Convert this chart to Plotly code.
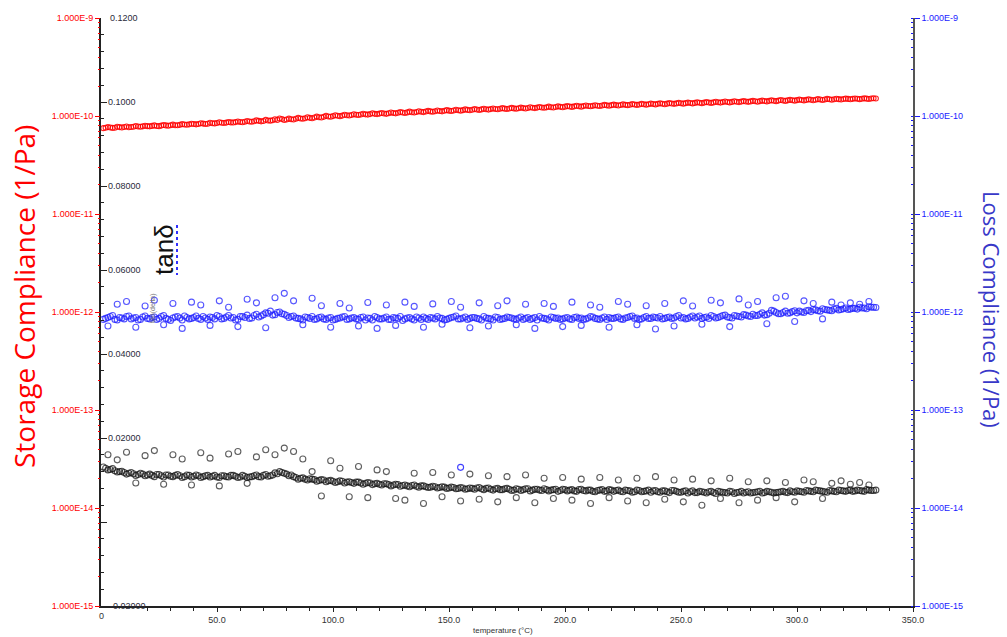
import plotly.graph_objects as go

# ---------------- data ----------------
temperature = [2, 4, 6, 8, 10, 12, 14, 16, 18, 20,
               22, 24, 26, 28, 30, 32, 34, 36, 38, 40,
               42, 44, 46, 48, 50, 52, 54, 56, 58, 60,
               62, 64, 66, 68, 70, 72, 74, 76, 78, 80,
               82, 84, 86, 88, 90, 92, 94, 96, 98, 100,
               102, 104, 106, 108, 110, 112, 114, 116, 118, 120,
               122, 124, 126, 128, 130, 132, 134, 136, 138, 140,
               142, 144, 146, 148, 150, 152, 154, 156, 158, 160,
               162, 164, 166, 168, 170, 172, 174, 176, 178, 180,
               182, 184, 186, 188, 190, 192, 194, 196, 198, 200,
               202, 204, 206, 208, 210, 212, 214, 216, 218, 220,
               222, 224, 226, 228, 230, 232, 234, 236, 238, 240,
               242, 244, 246, 248, 250, 252, 254, 256, 258, 260,
               262, 264, 266, 268, 270, 272, 274, 276, 278, 280,
               282, 284, 286, 288, 290, 292, 294, 296, 298, 300,
               302, 304, 306, 308, 310, 312, 314, 316, 318, 320,
               322, 324, 326, 328, 330, 332, 334]

temperature_odd = [1, 3, 5, 7, 9, 11, 13, 15, 17, 19,
                   21, 23, 25, 27, 29, 31, 33, 35, 37, 39,
                   41, 43, 45, 47, 49, 51, 53, 55, 57, 59,
                   61, 63, 65, 67, 69, 71, 73, 75, 77, 79,
                   81, 83, 85, 87, 89, 91, 93, 95, 97, 99,
                   101, 103, 105, 107, 109, 111, 113, 115, 117, 119,
                   121, 123, 125, 127, 129, 131, 133, 135, 137, 139,
                   141, 143, 145, 147, 149, 151, 153, 155, 157, 159,
                   161, 163, 165, 167, 169, 171, 173, 175, 177, 179,
                   181, 183, 185, 187, 189, 191, 193, 195, 197, 199,
                   201, 203, 205, 207, 209, 211, 213, 215, 217, 219,
                   221, 223, 225, 227, 229, 231, 233, 235, 237, 239,
                   241, 243, 245, 247, 249, 251, 253, 255, 257, 259,
                   261, 263, 265, 267, 269, 271, 273, 275, 277, 279,
                   281, 283, 285, 287, 289, 291, 293, 295, 297, 299,
                   301, 303, 305, 307, 309, 311, 313, 315, 317, 319,
                   321, 323, 325, 327, 329, 331, 333]

# storage compliance, units of 1e-11 1/Pa
storage_e11 = [7.60, 7.64, 7.58, 7.70, 7.72, 7.68, 7.78, 7.80, 7.84, 7.88,
               7.92, 7.90, 7.98, 8.02, 8.06, 8.04, 8.12, 8.18, 8.22, 8.28,
               8.30, 8.36, 8.34, 8.42, 8.48, 8.52, 8.56, 8.60, 8.66, 8.70,
               8.74, 8.80, 8.84, 8.92, 8.88, 9.00, 9.06, 9.12, 9.30, 9.20,
               9.28, 9.36, 9.42, 9.50, 9.58, 9.64, 9.72, 9.80, 9.90, 9.98,
               10.05, 10.10, 10.18, 10.24, 10.30, 10.36, 10.40, 10.46, 10.52, 10.58,
               10.62, 10.68, 10.72, 10.78, 10.84, 10.88, 10.94, 10.98, 11.04, 11.10,
               11.14, 11.20, 11.24, 11.30, 11.34, 11.38, 11.44, 11.48, 11.54, 11.60,
               11.64, 11.68, 11.72, 11.76, 11.80, 11.84, 11.88, 11.92, 11.96, 12.00,
               12.04, 12.08, 12.12, 12.18, 12.22, 12.26, 12.30, 12.36, 12.40, 12.46,
               12.50, 12.54, 12.58, 12.62, 12.66, 12.70, 12.74, 12.78, 12.84, 12.90,
               12.92, 12.96, 13.00, 13.04, 13.08, 13.12, 13.16, 13.20, 13.24, 13.30,
               13.32, 13.36, 13.40, 13.44, 13.48, 13.52, 13.56, 13.60, 13.64, 13.70,
               13.72, 13.76, 13.80, 13.86, 13.90, 13.92, 13.98, 14.02, 14.06, 14.10,
               14.14, 14.18, 14.22, 14.28, 14.30, 14.36, 14.40, 14.44, 14.48, 14.52,
               14.56, 14.60, 14.64, 14.66, 14.72, 14.76, 14.80, 14.84, 14.86, 14.90,
               14.94, 14.96, 15.00, 15.02, 15.04, 15.08, 15.10]

storage_odd_e11 = [7.52, 7.70, 7.56, 7.78, 7.62, 7.80, 7.72, 7.90, 7.78, 7.94,
                   7.84, 8.02, 7.88, 8.10, 7.96, 8.16, 8.06, 8.26, 8.14, 8.34,
                   8.22, 8.44, 8.28, 8.52, 8.40, 8.62, 8.48, 8.70, 8.58, 8.80,
                   8.64, 8.90, 8.74, 9.02, 8.82, 9.14, 8.96, 9.26, 9.44, 9.10,
                   9.40, 9.22, 9.56, 9.38, 9.72, 9.50, 9.86, 9.64, 10.04, 9.82,
                   10.16, 9.96, 10.30, 10.12, 10.42, 10.22, 10.54, 10.34, 10.66, 10.46,
                   10.74, 10.52, 10.86, 10.64, 10.96, 10.74, 11.08, 10.84, 11.20, 10.96,
                   11.28, 11.06, 11.38, 11.16, 11.48, 11.24, 11.58, 11.34, 11.68, 11.44,
                   11.76, 11.52, 11.86, 11.62, 11.94, 11.70, 12.02, 11.78, 12.10, 11.86,
                   12.18, 11.94, 12.28, 12.04, 12.36, 12.12, 12.46, 12.20, 12.54, 12.30,
                   12.62, 12.38, 12.72, 12.46, 12.80, 12.56, 12.88, 12.64, 12.98, 12.74,
                   13.06, 12.80, 13.14, 12.90, 13.22, 12.98, 13.30, 13.06, 13.38, 13.14,
                   13.46, 13.20, 13.54, 13.30, 13.62, 13.36, 13.70, 13.44, 13.78, 13.52,
                   13.86, 13.60, 13.96, 13.70, 14.04, 13.76, 14.12, 13.86, 14.20, 13.94,
                   14.28, 14.00, 14.36, 14.10, 14.44, 14.18, 14.54, 14.26, 14.62, 14.34,
                   14.70, 14.42, 14.78, 14.50, 14.86, 14.58, 14.94, 14.66, 15.00, 14.74,
                   15.04, 14.80, 15.10, 14.86, 15.14, 14.92, 15.16]

# loss compliance, units of 1e-12 1/Pa (main band)
loss_e12 = [0.86, 0.90, 0.84, 0.88, 0.85, 0.91, 0.87, 0.83, 0.89, 0.86,
            0.88, 0.84, 0.90, 0.86, 0.82, 0.89, 0.87, 0.91, 0.85, 0.88,
            0.86, 0.90, 0.84, 0.88, 0.92, 0.85, 0.89, 0.87, 0.83, 0.90,
            0.88, 0.86, 0.92, 0.89, 0.94, 0.97, 0.93, 0.99, 0.96, 0.92,
            0.90, 0.87, 0.85, 0.89, 0.86, 0.84, 0.88, 0.85, 0.87, 0.83,
            0.86, 0.89, 0.84, 0.87, 0.85, 0.88, 0.83, 0.86, 0.90, 0.85,
            0.87, 0.84, 0.88, 0.86, 0.82, 0.87, 0.85, 0.89, 0.84, 0.86,
            0.88, 0.85, 0.87, 0.83, 0.86, 0.89, 0.85, 0.87, 0.84, 0.88,
            0.86, 0.83, 0.87, 0.85, 0.89, 0.84, 0.86, 0.88, 0.85, 0.87,
            0.84, 0.88, 0.86, 0.83, 0.87, 0.85, 0.89, 0.86, 0.84, 0.87,
            0.85, 0.88, 0.86, 0.84, 0.87, 0.89, 0.85, 0.87, 0.84, 0.86,
            0.88, 0.85, 0.87, 0.90, 0.86, 0.84, 0.88, 0.86, 0.89, 0.87,
            0.85, 0.88, 0.86, 0.90, 0.87, 0.85, 0.89, 0.87, 0.91, 0.88,
            0.86, 0.90, 0.88, 0.92, 0.89, 0.87, 0.91, 0.89, 0.93, 0.90,
            0.92, 0.95, 0.93, 0.97, 1.02, 0.96, 0.99, 0.97, 1.01, 0.98,
            1.00, 1.03, 1.01, 1.05, 1.02, 1.06, 1.04, 1.07, 1.05, 1.08,
            1.06, 1.09, 1.07, 1.10, 1.08, 1.12, 1.11]

loss_odd_e12 = [0.84, 0.88, 0.92, 0.83, 0.87, 0.90, 0.85, 0.88, 0.84, 0.91,
                0.85, 0.89, 0.86, 0.92, 0.84, 0.87, 0.90, 0.83, 0.88, 0.86,
                0.91, 0.84, 0.87, 0.89, 0.85, 0.90, 0.86, 0.92, 0.88, 0.84,
                0.90, 0.93, 0.87, 0.95, 0.91, 0.98, 1.02, 0.94, 1.00, 0.95,
                0.88, 0.91, 0.86, 0.83, 0.88, 0.90, 0.85, 0.89, 0.84, 0.88,
                0.84, 0.87, 0.90, 0.85, 0.88, 0.84, 0.89, 0.87, 0.83, 0.88,
                0.85, 0.89, 0.84, 0.87, 0.90, 0.85, 0.88, 0.83, 0.87, 0.89,
                0.84, 0.87, 0.90, 0.86, 0.84, 0.88, 0.91, 0.85, 0.89, 0.86,
                0.88, 0.85, 0.90, 0.86, 0.83, 0.88, 0.85, 0.89, 0.87, 0.84,
                0.89, 0.86, 0.84, 0.88, 0.90, 0.86, 0.83, 0.88, 0.87, 0.85,
                0.88, 0.84, 0.89, 0.87, 0.85, 0.90, 0.86, 0.84, 0.89, 0.88,
                0.86, 0.89, 0.84, 0.88, 0.91, 0.87, 0.85, 0.90, 0.86, 0.88,
                0.90, 0.86, 0.89, 0.87, 0.92, 0.88, 0.86, 0.91, 0.89, 0.86,
                0.89, 0.92, 0.87, 0.90, 0.93, 0.88, 0.92, 0.90, 0.94, 0.91,
                0.95, 0.92, 0.98, 0.94, 1.04, 0.99, 0.96, 1.02, 0.98, 1.03,
                1.02, 0.99, 1.04, 1.06, 1.03, 1.08, 1.05, 1.03, 1.09, 1.06,
                1.10, 1.07, 1.09, 1.12, 1.10, 1.13, 1.12]

# tan delta (main band)
tan_delta = [0.0128, 0.0125, 0.0122, 0.0120, 0.0118, 0.0116, 0.0115, 0.0113, 0.0114, 0.0112,
             0.0111, 0.0113, 0.0110, 0.0112, 0.0109, 0.0111, 0.0110, 0.0108, 0.0111, 0.0109,
             0.0110, 0.0108, 0.0111, 0.0109, 0.0107, 0.0110, 0.0108, 0.0111, 0.0109, 0.0107,
             0.0109, 0.0107, 0.0110, 0.0108, 0.0111, 0.0109, 0.0112, 0.0115, 0.0118, 0.0114,
             0.0112, 0.0106, 0.0104, 0.0102, 0.0103, 0.0101, 0.0099, 0.0100, 0.0098, 0.0097,
             0.0096, 0.0097, 0.0095, 0.0094, 0.0095, 0.0093, 0.0092, 0.0093, 0.0091, 0.0090,
             0.0091, 0.0089, 0.0088, 0.0089, 0.0087, 0.0086, 0.0087, 0.0085, 0.0086, 0.0084,
             0.0083, 0.0084, 0.0082, 0.0083, 0.0081, 0.0082, 0.0080, 0.0081, 0.0079, 0.0080,
             0.0081, 0.0079, 0.0080, 0.0078, 0.0079, 0.0077, 0.0079, 0.0078, 0.0076, 0.0078,
             0.0077, 0.0079, 0.0076, 0.0078, 0.0075, 0.0077, 0.0076, 0.0078, 0.0075, 0.0077,
             0.0076, 0.0074, 0.0077, 0.0075, 0.0076, 0.0073, 0.0075, 0.0077, 0.0074, 0.0076,
             0.0075, 0.0073, 0.0076, 0.0074, 0.0072, 0.0075, 0.0073, 0.0076, 0.0074, 0.0072,
             0.0074, 0.0072, 0.0075, 0.0073, 0.0071, 0.0074, 0.0072, 0.0070, 0.0073, 0.0071,
             0.0072, 0.0070, 0.0073, 0.0071, 0.0069, 0.0072, 0.0070, 0.0073, 0.0071, 0.0069,
             0.0071, 0.0073, 0.0070, 0.0072, 0.0069, 0.0071, 0.0073, 0.0070, 0.0072, 0.0074,
             0.0072, 0.0075, 0.0073, 0.0076, 0.0074, 0.0072, 0.0075, 0.0073, 0.0076, 0.0074,
             0.0075, 0.0073, 0.0076, 0.0074, 0.0077, 0.0075, 0.0076]

tan_delta_odd = [0.0131, 0.0124, 0.0127, 0.0119, 0.0121, 0.0114, 0.0118, 0.0111, 0.0116, 0.0110,
                 0.0114, 0.0108, 0.0113, 0.0107, 0.0112, 0.0108, 0.0113, 0.0106, 0.0112, 0.0107,
                 0.0112, 0.0106, 0.0110, 0.0107, 0.0111, 0.0106, 0.0110, 0.0107, 0.0111, 0.0106,
                 0.0111, 0.0106, 0.0108, 0.0112, 0.0107, 0.0113, 0.0110, 0.0117, 0.0120, 0.0116,
                 0.0110, 0.0108, 0.0102, 0.0105, 0.0100, 0.0102, 0.0097, 0.0101, 0.0096, 0.0099,
                 0.0094, 0.0098, 0.0093, 0.0096, 0.0092, 0.0095, 0.0090, 0.0094, 0.0089, 0.0092,
                 0.0088, 0.0091, 0.0086, 0.0090, 0.0085, 0.0088, 0.0084, 0.0088, 0.0083, 0.0086,
                 0.0082, 0.0085, 0.0081, 0.0084, 0.0080, 0.0083, 0.0079, 0.0082, 0.0078, 0.0081,
                 0.0078, 0.0082, 0.0077, 0.0081, 0.0076, 0.0080, 0.0077, 0.0080, 0.0075, 0.0079,
                 0.0075, 0.0079, 0.0074, 0.0078, 0.0076, 0.0079, 0.0074, 0.0077, 0.0073, 0.0078,
                 0.0074, 0.0077, 0.0073, 0.0078, 0.0074, 0.0076, 0.0072, 0.0076, 0.0073, 0.0077,
                 0.0073, 0.0076, 0.0072, 0.0075, 0.0071, 0.0076, 0.0072, 0.0074, 0.0071, 0.0075,
                 0.0071, 0.0074, 0.0070, 0.0075, 0.0071, 0.0073, 0.0069, 0.0074, 0.0070, 0.0072,
                 0.0069, 0.0073, 0.0068, 0.0072, 0.0070, 0.0073, 0.0068, 0.0071, 0.0069, 0.0072,
                 0.0070, 0.0072, 0.0069, 0.0073, 0.0071, 0.0070, 0.0072, 0.0071, 0.0074, 0.0071,
                 0.0073, 0.0071, 0.0074, 0.0072, 0.0075, 0.0073, 0.0071, 0.0074, 0.0072, 0.0075,
                 0.0073, 0.0076, 0.0074, 0.0075, 0.0073, 0.0076, 0.0075]

# scattered readings around the main bands
temperature_b = [3, 7, 11, 15, 19, 23, 27, 31, 35, 39,
                 43, 47, 51, 55, 59, 63, 67, 71, 75, 79,
                 83, 87, 91, 95, 99, 103, 107, 111, 115, 119,
                 123, 127, 131, 135, 139, 143, 147, 151, 155, 159,
                 163, 167, 171, 175, 179, 183, 187, 191, 195, 199,
                 203, 207, 211, 215, 219, 223, 227, 231, 235, 239,
                 243, 247, 251, 255, 259, 263, 267, 271, 275, 279,
                 283, 287, 291, 295, 299, 303, 307, 311, 315, 319,
                 323, 327, 331]

loss_b_e12 = [0.72, 1.20, 1.28, 0.70, 1.15, 1.32, 0.74, 1.22, 0.68, 1.26,
              1.18, 0.73, 1.30, 1.12, 0.71, 1.35, 1.24, 0.69, 1.40, 1.55,
              1.30, 0.74, 1.38, 1.16, 0.70, 1.22, 1.10, 0.72, 1.25, 0.68,
              1.18, 0.73, 1.26, 1.14, 0.70, 1.21, 0.75, 1.28, 1.12, 0.69,
              1.24, 0.72, 1.16, 1.30, 0.74, 1.20, 0.68, 1.22, 1.14, 0.71,
              1.26, 0.73, 1.18, 1.12, 0.70, 1.28, 1.20, 0.74, 1.16, 0.67,
              1.22, 0.72, 1.30, 1.15, 0.75, 1.32, 1.24, 0.71, 1.36, 1.18,
              1.28, 0.76, 1.40, 1.45, 0.80, 1.30, 1.22, 0.85, 1.26, 1.18,
              1.24, 1.20, 1.28]

tan_delta_b = [0.0160, 0.0148, 0.0166, 0.0093, 0.0158, 0.0170, 0.0090, 0.0160, 0.0150, 0.0088,
               0.0165, 0.0152, 0.0086, 0.0162, 0.0168, 0.0092, 0.0155, 0.0172, 0.0160, 0.0176,
               0.0168, 0.0150, 0.0120, 0.0062, 0.0146, 0.0128, 0.0060, 0.0132, 0.0058, 0.0124,
               0.0120, 0.0056, 0.0052, 0.0116, 0.0044, 0.0118, 0.0060, 0.0112, 0.0050, 0.0114,
               0.0054, 0.0110, 0.0048, 0.0108, 0.0058, 0.0112, 0.0046, 0.0104, 0.0056, 0.0106,
               0.0052, 0.0102, 0.0044, 0.0106, 0.0058, 0.0100, 0.0050, 0.0104, 0.0046, 0.0108,
               0.0054, 0.0100, 0.0048, 0.0102, 0.0040, 0.0098, 0.0056, 0.0104, 0.0046, 0.0096,
               0.0052, 0.0098, 0.0058, 0.0094, 0.0048, 0.0100, 0.0096, 0.0056, 0.0092, 0.0098,
               0.0090, 0.0094, 0.0088]

# a single stray loss-compliance reading
loss_outlier_T = [155]
loss_outlier = [2.6e-14]

x_tick_vals = [0, 50, 100, 150, 200, 250, 300, 350]
x_tick_text = ["", "50.0", "100.0", "150.0", "200.0", "250.0", "300.0", "350.0"]
log_tick_vals = [1e-15, 1e-14, 1e-13, 1e-12, 1e-11, 1e-10, 1e-9]
log_tick_text = ["1.000E-15", "1.000E-14", "1.000E-13", "1.000E-12",
                 "1.000E-11", "1.000E-10", "1.000E-9"]
tan_tick_vals = [-0.02, 0.0, 0.02, 0.04, 0.06, 0.08, 0.10, 0.12]
tan_tick_text = ["", "", "0.02000", "0.04000", "0.06000", "0.08000", "0.1000", ""]
tan_edge_vals = [-0.02, 0.12]
tan_edge_text = ["-0.02000", "0.1200"]

storage = [v * 1e-11 for v in storage_e11]
storage_odd = [v * 1e-11 for v in storage_odd_e11]
loss = [v * 1e-12 for v in loss_e12]
loss_odd = [v * 1e-12 for v in loss_odd_e12]
loss_b = [v * 1e-12 for v in loss_b_e12]

# ---------------- figure ----------------
RED = "#ff0000"
BLUE = "#1a1aff"
TICKFONT = dict(family="Liberation Sans, Arial, sans-serif", size=9)


def mk(color, size=6):
    return dict(symbol="circle-open", size=size, color=color, line=dict(width=1.1))


fig = go.Figure()
fig.add_trace(go.Scatter(x=temperature_b, y=tan_delta_b, yaxis="y2", mode="markers",
                         marker=mk("rgba(40,40,40,0.75)")))
fig.add_trace(go.Scatter(x=temperature, y=tan_delta, yaxis="y2", mode="markers",
                         marker=mk("rgba(20,20,20,0.75)")))
fig.add_trace(go.Scatter(x=temperature_odd, y=tan_delta_odd, yaxis="y2", mode="markers",
                         marker=mk("rgba(20,20,20,0.75)")))
fig.add_trace(go.Scatter(x=temperature_b, y=loss_b, yaxis="y3", mode="markers",
                         marker=mk("rgba(30,30,255,0.75)")))
fig.add_trace(go.Scatter(x=temperature, y=loss, yaxis="y3", mode="markers",
                         marker=mk("rgba(30,30,255,0.75)")))
fig.add_trace(go.Scatter(x=temperature_odd, y=loss_odd, yaxis="y3", mode="markers",
                         marker=mk("rgba(30,30,255,0.75)")))
fig.add_trace(go.Scatter(x=loss_outlier_T, y=loss_outlier, yaxis="y3", mode="markers",
                         marker=mk("rgba(30,30,255,0.85)")))
fig.add_trace(go.Scatter(x=temperature, y=storage, yaxis="y", mode="markers",
                         marker=mk("rgba(255,0,0,0.85)", 5)))
fig.add_trace(go.Scatter(x=temperature_odd, y=storage_odd, yaxis="y", mode="markers",
                         marker=mk("rgba(255,0,0,0.85)", 5)))

fig.update_layout(
    width=1007, height=637,
    margin=dict(l=101, r=94, t=18, b=31),
    paper_bgcolor="white", plot_bgcolor="white",
    showlegend=False,
    xaxis=dict(range=[0, 350], tickmode="array", tickvals=x_tick_vals, ticktext=x_tick_text,
               showgrid=False, zeroline=False, showline=True, linecolor="#222", linewidth=1.5,
               ticks="outside", ticklen=4, tickcolor="#222",
               minor=dict(ticks="outside", ticklen=3, dtick=10, tickcolor="#222", showgrid=False),
               tickfont=dict(color="#333", **TICKFONT)),
    yaxis=dict(type="log", range=[-15, -9], tickmode="array", tickvals=log_tick_vals,
               ticktext=log_tick_text, showgrid=False, zeroline=False, showline=False,
               ticks="outside", ticklen=5, tickcolor=RED,
               minor=dict(ticks="outside", ticklen=2, dtick="D1", tickcolor=RED, showgrid=False),
               tickfont=dict(color=RED, **TICKFONT)),
    yaxis2=dict(overlaying="y", side="left", anchor="x", range=[-0.02, 0.12],
                tickmode="array", tickvals=tan_tick_vals, ticktext=tan_tick_text,
                showgrid=False, zeroline=False, showline=True, linecolor="#222", linewidth=1.5,
                ticks="inside", ticklen=6, tickcolor="#222", ticklabelposition="inside",
                minor=dict(ticks="inside", ticklen=3, dtick=0.004, tickcolor="#222", showgrid=False),
                tickfont=dict(color="#2a2a3a", **TICKFONT)),
    yaxis3=dict(type="log", overlaying="y", side="right", anchor="x", range=[-15, -9],
                tickmode="array", tickvals=log_tick_vals, ticktext=log_tick_text,
                showgrid=False, zeroline=False, showline=True, linecolor="#555", linewidth=1.5,
                ticks="outside", ticklen=5, tickcolor=BLUE,
                minor=dict(ticks="inside", ticklen=2, dtick="D1", tickcolor=BLUE, showgrid=False),
                tickfont=dict(color=BLUE, **TICKFONT)),
)

PW = 1007 - 101 - 94
PH = 637 - 18 - 31


def px(xp):
    return (xp - 101) / PW


def py(yp):
    return (606 - yp) / PH


annotations = [
    dict(text="Storage Compliance (1/Pa)", x=px(24), y=py(297), textangle=-90,
         font=dict(family="Open Sans, Noto Sans, sans-serif", size=28, color=RED)),
    dict(text="Loss Compliance (1/Pa)", x=px(992), y=py(309), textangle=90,
         font=dict(family="Open Sans, Noto Sans, sans-serif", size=22, color="#3838c8")),
    dict(text="tanδ", x=px(164), y=py(250), textangle=-90,
         font=dict(family="Liberation Sans, Arial, sans-serif", size=26, color="#111")),
    dict(text="tan(delta)", x=px(153), y=py(308), textangle=-90,
         font=dict(family="Liberation Sans, Arial, sans-serif", size=7, color="#777")),
    dict(text="temperature (°C)", x=px(503), y=py(630),
         font=dict(family="Liberation Sans, Arial, sans-serif", size=8, color="#333")),
    dict(text="0", x=px(101), y=py(616),
         font=dict(color="#333", **TICKFONT)),
]
for a in annotations:
    a.update(xref="paper", yref="paper", xanchor="center", yanchor="middle")
for v, t in zip(tan_edge_vals, tan_edge_text):
    annotations.append(dict(text=t, xref="paper", x=px(108), yref="y2", y=v,
                            xanchor="left", yanchor="middle",
                            font=dict(color="#2a2a3a", **TICKFONT)))
for a in annotations:
    a["showarrow"] = False
fig.update_layout(annotations=annotations)

fig.add_shape(type="line", xref="paper", yref="paper", x0=px(177), x1=px(177),
              y0=py(225), y1=py(275), line=dict(color="#3030ff", width=2, dash="dot"))

fig.write_html("out.html", config={"displayModeBar": False},
               post_script="document.body.style.margin='0px';")
